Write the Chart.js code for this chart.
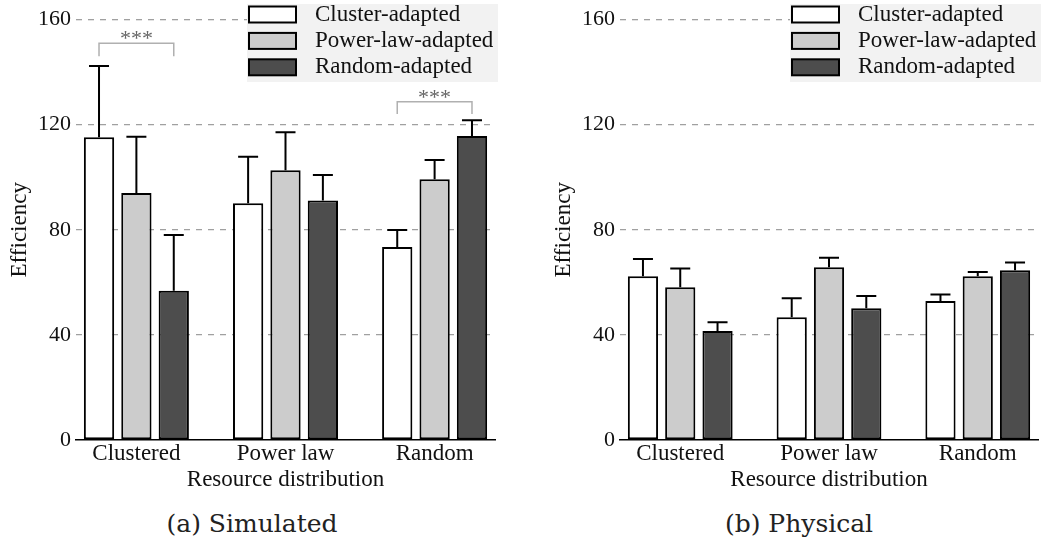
<!DOCTYPE html>
<html>
<head>
<meta charset="utf-8">
<script src="https://cdn.jsdelivr.net/npm/chart.js@4.4.1/dist/chart.umd.min.js"></script>
<style>
  html, body { margin: 0; padding: 0; background: #fff; }
  body { width: 1045px; height: 544px; position: relative; overflow: hidden; }
  .wrap { position: absolute; top: 0; }
  .cap { position: absolute; font-family: "DejaVu Serif"; font-size: 25px; color: #222; white-space: nowrap; transform: translateX(-50%); }
</style>
</head>
<body>
<div class="wrap" style="left:0px;width:505px;height:495px;"><canvas id="simChart"></canvas></div>
<div class="wrap" style="left:544px;width:501px;height:495px;"><canvas id="physChart"></canvas></div>
<div class="cap" style="left:252px;top:509px;">(a) Simulated</div>
<div class="cap" style="left:799px;top:509px;">(b) Physical</div>
<script>
// ---- data ----
const categories = ['Clustered', 'Power law', 'Random'];
const seriesNames = ['Cluster-adapted', 'Power-law-adapted', 'Random-adapted'];
const yTicks = [0, 40, 80, 120, 160];

// Simulated (a)
const simClusterAdapted = [115.2, 90.1, 73.4];
const simPowerAdapted   = [94.0, 102.6, 99.2];
const simRandomAdapted  = [56.8, 91.1, 115.7];
const simClusterErr = [27.1, 17.7, 6.5];
const simPowerErr   = [21.4, 14.5, 7.3];
const simRandomErr  = [21.2, 9.7, 6.0];

// Physical (b)
const physClusterAdapted = [62.3, 46.7, 52.9];
const physPowerAdapted   = [58.1, 65.7, 62.3];
const physRandomAdapted  = [41.5, 50.1, 64.6];
const physClusterErr = [6.6, 7.2, 2.5];
const physPowerErr   = [7.2, 3.6, 1.6];
const physRandomErr  = [3.3, 4.7, 2.9];

// significance brackets (simulated): group index, bracket top, leg bottom, label
const simBrackets = [
  { group: 0, top: 151, bottom: 146, label: '***' },
  { group: 2, top: 128.7, bottom: 124, label: '***' }
];

const fills = ['#ffffff', '#cccccc', '#4d4d4d'];
const serif = "'Liberation Serif'";
Chart.defaults.font.family = serif;

function makeDatasets(vals, errs) {
  return vals.map((v, i) => ({
    label: seriesNames[i],
    data: v.map((y, k) => ({ x: k, y: y })),
    errors: errs[i],
    backgroundColor: fills[i],
    borderColor: '#000',
    borderWidth: 2,
    borderSkipped: false,
    barPercentage: 0.81,
    categoryPercentage: 0.752
  }));
}

const errorBarPlugin = {
  id: 'errorBars',
  afterDatasetsDraw(chart) {
    const ctx = chart.ctx;
    const ys = chart.scales.y;
    ctx.save();
    ctx.strokeStyle = '#000';
    ctx.lineWidth = 2;
    chart.data.datasets.forEach((ds, di) => {
      const meta = chart.getDatasetMeta(di);
      meta.data.forEach((bar, k) => {
        const top = ds.data[k].y + ds.errors[k];
        const yTop = ys.getPixelForValue(top);
        ctx.beginPath();
        ctx.moveTo(bar.x, bar.y);
        ctx.lineTo(bar.x, yTop);
        ctx.moveTo(bar.x - 10, yTop);
        ctx.lineTo(bar.x + 10, yTop);
        ctx.stroke();
      });
    });
    ctx.restore();
  }
};

const bracketPlugin = {
  id: 'brackets',
  afterDatasetsDraw(chart, args, opts) {
    const list = opts.items || [];
    if (!list.length) return;
    const ctx = chart.ctx;
    const ys = chart.scales.y;
    ctx.save();
    list.forEach(b => {
      const first = chart.getDatasetMeta(0).data[b.group];
      const last = chart.getDatasetMeta(chart.data.datasets.length - 1).data[b.group];
      const yT = ys.getPixelForValue(b.top);
      const yB = ys.getPixelForValue(b.bottom);
      ctx.strokeStyle = '#b0b0b0';
      ctx.lineWidth = 1.5;
      ctx.beginPath();
      ctx.moveTo(first.x, yB);
      ctx.lineTo(first.x, yT);
      ctx.lineTo(last.x, yT);
      ctx.lineTo(last.x, yB);
      ctx.stroke();
      ctx.fillStyle = '#666';
      ctx.font = "22px 'Liberation Serif'";
      ctx.textAlign = 'center';
      ctx.textBaseline = 'alphabetic';
      ctx.fillText(b.label, (first.x + last.x) / 2, yT + 2);
    });
    ctx.restore();
  }
};

const legendPlugin = {
  id: 'boxLegend',
  afterDraw(chart) {
    const ctx = chart.ctx;
    const right = chart.chartArea.right;
    const bgL = right - 248, bgR = right + 3, bgT = 4, bgB = 82;
    ctx.save();
    ctx.fillStyle = '#f2f2f2';
    ctx.fillRect(bgL, bgT, bgR - bgL, bgB - bgT);
    chart.data.datasets.forEach((ds, i) => {
      const y = 6.5 + i * 26.4;
      ctx.fillStyle = ds.backgroundColor;
      ctx.fillRect(bgL + 2, y, 47, 16);
      ctx.strokeStyle = '#000';
      ctx.lineWidth = 2;
      ctx.strokeRect(bgL + 2, y, 47, 16);
      ctx.fillStyle = '#111';
      ctx.font = "23px 'Liberation Serif'";
      ctx.textAlign = 'left';
      ctx.textBaseline = 'middle';
      ctx.fillText(ds.label, bgL + 68, y + 8);
    });
    ctx.restore();
  }
};

function makeChart(id, vals, errs, brackets, padRight) {
  return new Chart(document.getElementById(id), {
    type: 'bar',
    data: { datasets: makeDatasets(vals, errs) },
    plugins: [errorBarPlugin, bracketPlugin, legendPlugin],
    options: {
      responsive: true,
      maintainAspectRatio: false,
      animation: false,
      layout: { padding: { top: 19.5, right: padRight, bottom: 0, left: 0 } },
      plugins: {
        legend: { display: false },
        tooltip: { enabled: false },
        brackets: { items: brackets }
      },
      scales: {
        x: {
          type: 'linear',
          min: -0.405,
          max: 2.405,
          offset: false,
          afterBuildTicks: (s) => { s.ticks = categories.map((c, i) => ({ value: i })); },
          afterFit: (s) => { s.height = 55; },
          ticks: {
            callback: (v) => categories[v],
            color: '#111',
            font: { family: serif, size: 23, lineHeight: 1.1 },
            padding: 1,
            maxRotation: 0,
            autoSkip: false
          },
          grid: { display: false, drawTicks: false },
          border: { display: true, color: '#000', width: 1.5 },
          title: {
            display: true,
            text: 'Resource distribution',
            color: '#111',
            font: { family: serif, size: 23, lineHeight: 1.1 },
            padding: { top: 0, bottom: 2 }
          }
        },
        y: {
          min: 0,
          max: 160,
          afterBuildTicks: (s) => { s.ticks = yTicks.map(v => ({ value: v })); },
          afterFit: (s) => { s.width = 76; },
          ticks: {
            color: '#111',
            font: { family: serif, size: 22 },
            padding: 5
          },
          grid: {
            drawTicks: false,
            color: (c) => c.tick && c.tick.value === 0 ? 'rgba(0,0,0,0)' : '#a0a0a0',
            lineWidth: 1.3
          },
          border: { display: false, dash: [6, 6] },
          title: {
            display: true,
            text: 'Efficiency',
            color: '#111',
            font: { family: serif, size: 23, lineHeight: 1.1 },
            padding: { top: 7, bottom: 0 }
          }
        }
      }
    }
  });
}

const charts = [];
charts.push(makeChart('simChart',
  [simClusterAdapted, simPowerAdapted, simRandomAdapted],
  [simClusterErr, simPowerErr, simRandomErr],
  simBrackets, 10));
charts.push(makeChart('physChart',
  [physClusterAdapted, physPowerAdapted, physRandomAdapted],
  [physClusterErr, physPowerErr, physRandomErr],
  [], 7));

if (document.fonts && document.fonts.ready) {
  document.fonts.ready.then(() => charts.forEach(c => c.update('none')));
}
</script>
</body>
</html>
